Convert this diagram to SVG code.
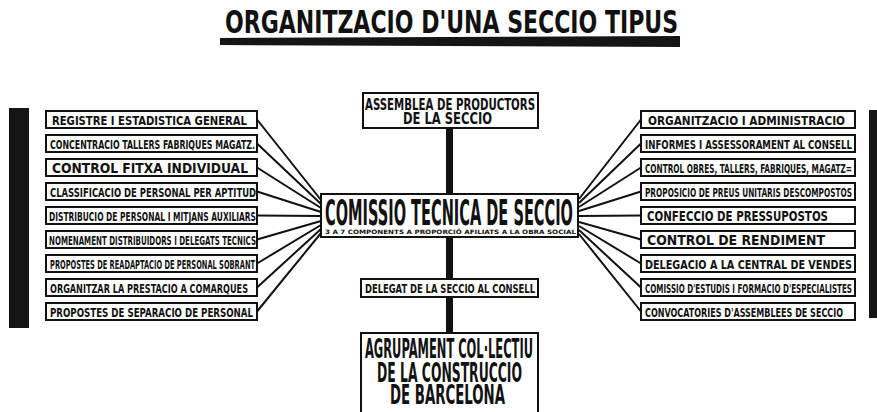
<svg xmlns="http://www.w3.org/2000/svg" width="877" height="412" viewBox="0 0 877 412">
<style>
.bx{fill:#fff;stroke:#111;stroke-width:2}
.t{font-family:"DejaVu Sans Condensed","Liberation Sans Narrow","Liberation Sans",sans-serif;font-weight:bold;fill:#111}
.c{stroke:#111;stroke-width:2;fill:none}
.v{stroke:#111;stroke-width:7;fill:none}
.bar{fill:#151515}
</style>
<rect width="877" height="412" fill="#fff"/>
<g id="title">
<text class="t" transform="translate(225,33) scale(1,1.3)" font-size="24" textLength="453" lengthAdjust="spacingAndGlyphs">ORGANITZACIO D'UNA SECCIO TIPUS</text>
<polygon class="bar" points="220,38 680,36 680,47 220,45"/>
</g>
<g id="side-bars">
<rect class="bar" x="9" y="108" width="20" height="220"/>
<rect class="bar" x="869" y="110" width="8" height="208"/>
</g>
<g id="connectors">
<path class="v" d="M449.5 128V194M449.5 237V279M449.5 297V333"/>
<path class="c" d="M257 119.5L321 200M257 143.5L321 204M257 167.5L321 208M257 191.5L321 212M257 215.5L321 216M257 239.5L321 221M257 263.5L321 225M257 287.5L321 229M257 311.5L321 233"/>
<path class="c" d="M641 119.5L579 199M641 143.5L579 203M641 167.5L579 207M641 191.5L579 211M641 215.5L579 216M641 239.5L579 222M641 263.5L579 226M641 287.5L579 230M641 311.5L579 234"/>
</g>
<g id="left-1"><rect class="bx" x="46" y="111" width="211" height="17"/><text class="t" transform="translate(52,124.5) scale(1,1.2)" font-size="10.4" textLength="195" lengthAdjust="spacingAndGlyphs">REGISTRE I ESTADISTICA GENERAL</text></g>
<g id="left-2"><rect class="bx" x="46" y="135" width="211" height="17"/><text class="t" transform="translate(50,148.5) scale(1,1.5)" font-size="8.3" textLength="205" lengthAdjust="spacingAndGlyphs">CONCENTRACIO TALLERS FABRIQUES MAGATZ.</text></g>
<g id="left-3"><rect class="bx" x="46" y="159" width="211" height="17"/><text class="t" transform="translate(52,173) scale(1,1.05)" font-size="13.2" textLength="196" lengthAdjust="spacingAndGlyphs">CONTROL FITXA INDIVIDUAL</text></g>
<g id="left-4"><rect class="bx" x="46" y="183" width="211" height="17"/><text class="t" transform="translate(50,196.5) scale(1,1.42)" font-size="8.8" textLength="206" lengthAdjust="spacingAndGlyphs">CLASSIFICACIO DE PERSONAL PER APTITUD</text></g>
<g id="left-5"><rect class="bx" x="46" y="207" width="211" height="17"/><text class="t" transform="translate(49,220.5) scale(1,1.55)" font-size="8" textLength="207" lengthAdjust="spacingAndGlyphs">DISTRIBUCIO DE PERSONAL I MITJANS AUXILIARS</text></g>
<g id="left-6"><rect class="bx" x="46" y="231" width="211" height="17"/><text class="t" transform="translate(49,244.5) scale(1,1.67)" font-size="7.5" textLength="207" lengthAdjust="spacingAndGlyphs">NOMENAMENT DISTRIBUIDORS I DELEGATS TECNICS</text></g>
<g id="left-7"><rect class="bx" x="46" y="255" width="211" height="17"/><text class="t" transform="translate(50,268.5) scale(1,1.76)" font-size="7.1" textLength="205" lengthAdjust="spacingAndGlyphs">PROPOSTES DE READAPTACIO DE PERSONAL SOBRANT</text></g>
<g id="left-8"><rect class="bx" x="46" y="279" width="211" height="17"/><text class="t" transform="translate(50,292.5) scale(1,1.42)" font-size="8.8" textLength="198" lengthAdjust="spacingAndGlyphs">ORGANITZAR LA PRESTACIO A COMARQUES</text></g>
<g id="left-9"><rect class="bx" x="46" y="303" width="211" height="17"/><text class="t" transform="translate(50,316.5) scale(1,1.37)" font-size="9.1" textLength="203" lengthAdjust="spacingAndGlyphs">PROPOSTES DE SEPARACIO DE PERSONAL</text></g>
<g id="right-1"><rect class="bx" x="641" y="111" width="214" height="17"/><text class="t" transform="translate(648,124.5) scale(1,1.08)" font-size="11.6" textLength="197" lengthAdjust="spacingAndGlyphs">ORGANITZACIO I ADMINISTRACIO</text></g>
<g id="right-2"><rect class="bx" x="641" y="135" width="214" height="17"/><text class="t" transform="translate(645,148.5) scale(1,1.36)" font-size="9.2" textLength="207" lengthAdjust="spacingAndGlyphs">INFORMES I ASSESSORAMENT AL CONSELL</text></g>
<g id="right-3"><rect class="bx" x="641" y="159" width="214" height="17"/><text class="t" transform="translate(645,172.5) scale(1,1.63)" font-size="7.7" textLength="207" lengthAdjust="spacingAndGlyphs">CONTROL OBRES, TALLERS, FABRIQUES, MAGATZ=</text></g>
<g id="right-4"><rect class="bx" x="641" y="183" width="214" height="17"/><text class="t" transform="translate(645,196.5) scale(1,1.57)" font-size="8" textLength="207" lengthAdjust="spacingAndGlyphs">PROPOSICIO DE PREUS UNITARIS DESCOMPOSTOS</text></g>
<g id="right-5"><rect class="bx" x="641" y="207" width="214" height="17"/><text class="t" transform="translate(647,221) scale(1,1.28)" font-size="10.9" textLength="181" lengthAdjust="spacingAndGlyphs">CONFECCIO DE PRESSUPOSTOS</text></g>
<g id="right-6"><rect class="bx" x="641" y="231" width="214" height="17"/><text class="t" transform="translate(647,245) scale(1,1.04)" font-size="13.5" textLength="178" lengthAdjust="spacingAndGlyphs">CONTROL DE RENDIMENT</text></g>
<g id="right-7"><rect class="bx" x="641" y="255" width="214" height="17"/><text class="t" transform="translate(645,268.5) scale(1,1.24)" font-size="10.1" textLength="207" lengthAdjust="spacingAndGlyphs">DELEGACIO A LA CENTRAL DE VENDES</text></g>
<g id="right-8"><rect class="bx" x="641" y="279" width="214" height="17"/><text class="t" transform="translate(645,292.5) scale(1,1.63)" font-size="7.7" textLength="207" lengthAdjust="spacingAndGlyphs">COMISSIO D'ESTUDIS I FORMACIO D'ESPECIALISTES</text></g>
<g id="right-9"><rect class="bx" x="641" y="303" width="214" height="17"/><text class="t" transform="translate(645,316.5) scale(1,1.49)" font-size="8.4" textLength="198" lengthAdjust="spacingAndGlyphs">CONVOCATORIES D'ASSEMBLEES DE SECCIO</text></g>
<g id="assemblea"><rect class="bx" x="363" y="93" width="175" height="35"/>
<text class="t" transform="translate(365,110) scale(1,1.39)" font-size="10.8" textLength="170" lengthAdjust="spacingAndGlyphs">ASSEMBLEA DE PRODUCTORS</text>
<text class="t" transform="translate(403,124) scale(1,1.26)" font-size="11.9" textLength="89" lengthAdjust="spacingAndGlyphs">DE LA SECCIO</text></g>
<g id="comissio"><rect class="bx" x="321" y="194" width="257" height="43"/>
<text class="t" transform="scale(1,2.3)" font-size="15.5"><tspan x="325" y="97.83" textLength="248" lengthAdjust="spacingAndGlyphs">COMISSIO TECNICA DE SECCIO</tspan><tspan x="325" y="101.74" font-size="2.6" textLength="251" lengthAdjust="spacingAndGlyphs">3 A 7 COMPONENTS A PROPORCIÓ AFILIATS A LA OBRA SOCIAL</tspan></text></g>
<g id="delegat"><rect class="bx" x="361" y="279" width="177" height="18"/>
<text class="t" transform="translate(365,292.5) scale(1,1.5)" font-size="8.6" textLength="170" lengthAdjust="spacingAndGlyphs">DELEGAT DE LA SECCIO AL CONSELL</text></g>
<g id="agrupament"><rect class="bx" x="361" y="333" width="177" height="90"/>
<text class="t" transform="scale(1,2.2)" font-size="12.2"><tspan x="365" y="162.73" textLength="168" lengthAdjust="spacingAndGlyphs">AGRUPAMENT COL·LECTIU</tspan><tspan x="377" y="173.64" textLength="145" lengthAdjust="spacingAndGlyphs">DE LA CONSTRUCCIO</tspan><tspan x="390" y="183.64" textLength="115" lengthAdjust="spacingAndGlyphs">DE BARCELONA</tspan></text></g>
</svg>
